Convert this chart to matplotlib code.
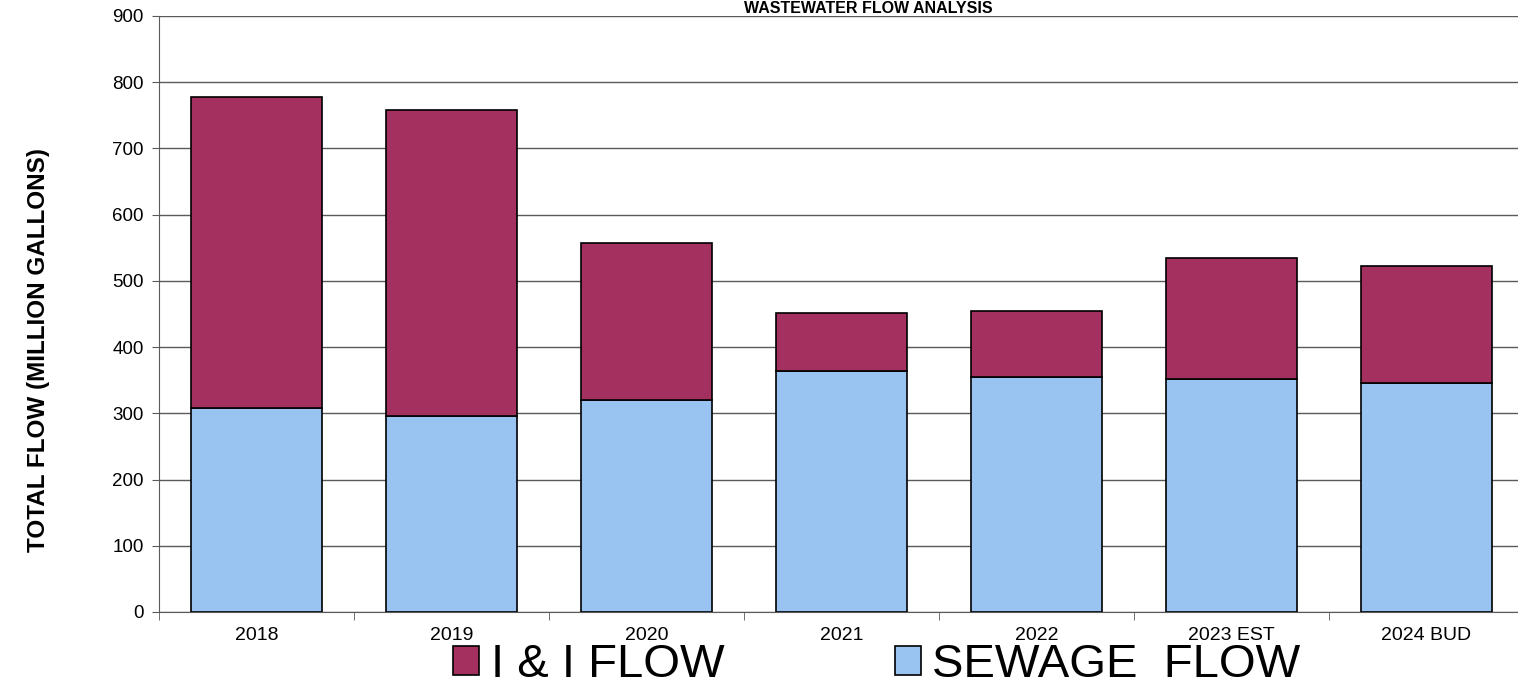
import numpy as np
import matplotlib.pyplot as plt
from matplotlib.ticker import FixedLocator

plt.rcParams['font.family'] = ['Liberation Sans', 'DejaVu Sans']

# data (million gallons)
years = ['2018', '2019', '2020', '2021', '2022', '2023 EST', '2024 BUD']
sewage_flow = [308, 296, 320, 364, 355, 352, 346]
total_flow = [778, 758, 557, 452, 455, 535, 522]
ii_flow = [t - s for t, s in zip(total_flow, sewage_flow)]

sewage_color = '#99C4F2'
ii_color = '#A3305E'
grid_color = '#5a5a5a'

fig = plt.figure(figsize=(15.18, 6.86), dpi=100)
ax = fig.add_axes([159 / 1518, 74 / 686, 1365 / 1518, 596 / 686])

x = np.arange(len(years))
bar_w = 0.67
ax.bar(x, sewage_flow, bar_w, color=sewage_color, edgecolor='black', linewidth=1.2,
       label='SEWAGE  FLOW', zorder=3)
ax.bar(x, ii_flow, bar_w, bottom=sewage_flow, color=ii_color, edgecolor='black',
       linewidth=1.2, label='I & I FLOW', zorder=3)

ax.set_xlim(-0.5, len(years) - 0.5)
ax.set_ylim(0, 900)
ax.set_yticks(np.arange(0, 901, 100))
ax.yaxis.grid(True, color=grid_color, linewidth=1, zorder=0)
ax.set_axisbelow(True)

ax.set_xticks(x)
ax.set_xticklabels(years, fontsize=14)
ax.xaxis.set_minor_locator(FixedLocator(np.arange(-0.5, len(years), 1.0)))
ax.tick_params(axis='x', which='major', length=0, pad=11)
ax.tick_params(axis='x', which='minor', length=6, color=grid_color, direction='out')
ax.tick_params(axis='y', labelsize=13.5, length=5, color=grid_color, pad=6)

for side in ['top', 'right']:
    ax.spines[side].set_visible(False)
ax.spines['left'].set_color(grid_color)
ax.spines['bottom'].set_color(grid_color)

fig.text(39 / 1518, 1 - 350 / 686, 'TOTAL FLOW (MILLION GALLONS)', rotation=90,
         fontsize=17.5, fontweight='bold', ha='center', va='center')
# title sits right at the top edge, as in the source
fig.text(868 / 1518, 1 - 13 / 686, 'WASTEWATER FLOW ANALYSIS', fontsize=11.5,
         fontweight='bold', ha='center', va='baseline')

handles, labels = ax.get_legend_handles_labels()
fig.legend(handles[::-1], labels[::-1], loc='center', bbox_to_anchor=(877 / 1518, 1 - 665 / 686),
           ncol=2, frameon=False, fontsize=34, handlelength=0.55, handleheight=0.55,
           handletextpad=0.25, columnspacing=3.6, borderpad=0)

fig.savefig('out.png', dpi=100)
